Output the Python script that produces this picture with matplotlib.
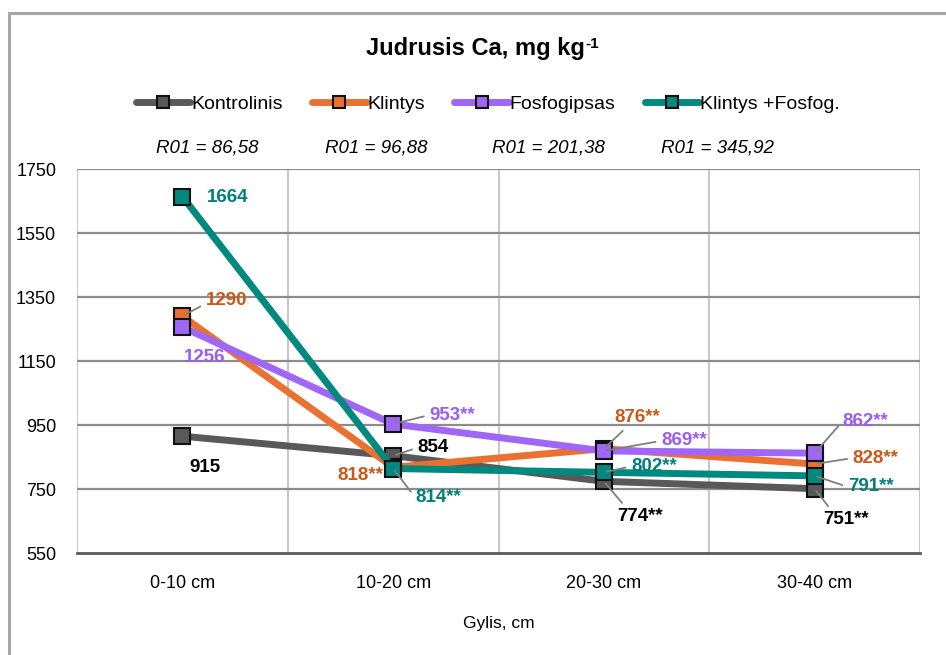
import matplotlib
matplotlib.use('Agg')
import matplotlib.pyplot as plt
from matplotlib.lines import Line2D

# depth layers and measured mobile Ca per treatment
depths = ['0-10 cm', '10-20 cm', '20-30 cm', '30-40 cm']
series_names = ['Kontrolinis', 'Klintys', 'Fosfogipsas', 'Klintys +Fosfog.']
kontrolinis = [915, 854, 774, 751]
klintys = [1290, 818, 876, 828]
fosfogipsas = [1256, 953, 869, 862]
klintys_fosfog = [1664, 814, 802, 791]
stars = [['', '', '**', '**'],
         ['', '**', '**', '**'],
         ['', '**', '**', '**'],
         ['', '**', '**', '**']]
r01 = ['R01 = 86,58', 'R01 = 96,88', 'R01 = 201,38', 'R01 = 345,92']
y_ticks = [550, 750, 950, 1150, 1350, 1550, 1750]

line_colors = ['#595959', '#E97132', '#A066F5', '#00897F']
label_colors = ['#000000', '#C9591B', '#9B5CF6', '#00807A']

# label offsets in pixels (dx right, dy down), leader anchor on the label
label_layout = [
    [(23, 31, None), (40, -8, (0, 0.5)), (36, 35, (0.2, 1)), (31, 31, (0.2, 1))],
    [(44, -16, (0, 0.3)), (-33, 8, None), (33, -31, (0.3, 0)), (61, -6, (0, 0.5))],
    [(22, 30, None), (59, -9, (0, 0.5)), (80, -10, (0, 0.5)), (51, -32, (0, 0.5))],
    [(45, 1, None), (45, 29, (0, 0.5)), (50, -6, (0, 0.5)), (56, 11, (0, 0.5))],
]

sans = ['Liberation Sans', 'DejaVu Sans']

fig = plt.figure(figsize=(9.46, 6.55), dpi=100)
ax = fig.add_axes([77 / 946, 1 - 553 / 655, (920 - 77) / 946, (553 - 169) / 655])

x = list(range(len(depths)))
all_series = [kontrolinis, klintys, fosfogipsas, klintys_fosfog]
for k, vals in enumerate(all_series):
    ax.plot(x, vals, color=line_colors[k], lw=5, solid_capstyle='round',
            marker='s', markersize=12, markerfacecolor=line_colors[k],
            markeredgecolor='#111111', markeredgewidth=1.5, zorder=3 + k)

# data labels with leader lines
for k, vals in enumerate(all_series):
    for i, v in enumerate(vals):
        dx, dy, rel = label_layout[k][i]
        kw = {}
        if rel is not None:
            kw['arrowprops'] = dict(arrowstyle='-', color='#7f7f7f', lw=1.3,
                                    shrinkA=2, shrinkB=2, relpos=rel)
        ax.annotate(f'{v}{stars[k][i]}', xy=(i, v),
                    xytext=(dx * 0.72, -dy * 0.72), textcoords='offset points',
                    ha='center', va='center', fontsize=13.5, fontweight='bold',
                    family=sans, color=label_colors[k], zorder=10, **kw)

ax.set_xlim(-0.5, len(depths) - 0.5)
ax.set_ylim(550, 1750)
ax.set_yticks(y_ticks)
ax.set_yticklabels([str(t) for t in y_ticks], family=sans, fontsize=13)
ax.set_xticks(x)
ax.set_xticklabels(depths, family=sans, fontsize=13)
ax.tick_params(length=0)
ax.tick_params(axis='y', pad=15)
ax.tick_params(axis='x', pad=16)

# horizontal grid darker, vertical separators lighter
for t in y_ticks[1:]:
    ax.axhline(t, color='#8c8c8c', lw=1.6, zorder=1)
for b in [-0.5, 0.5, 1.5, 2.5, 3.5]:
    ax.axvline(b, color='#c8c8c8', lw=1.5, zorder=0)
for s in ['left', 'right', 'top']:
    ax.spines[s].set_visible(False)
ax.spines['bottom'].set_color('#595959')
ax.spines['bottom'].set_linewidth(2)

ax.set_xlabel('Gylis, cm', family=sans, fontsize=12.5, labelpad=17)

# title with a small raised "-1"
title = fig.text(475 / 946, 1 - 48 / 655, 'Judrusis Ca, mg kg', ha='center', va='center',
                 fontsize=17, fontweight='bold', family=sans)
fig.canvas.draw()
bb = title.get_window_extent().transformed(fig.transFigure.inverted())
fig.text(bb.x1 + 1 / 946, bb.y1 - 8 / 655, '-1', ha='left', va='center',
         fontsize=11, fontweight='bold', family=sans)

handles = [Line2D([0], [0], color=c, lw=5, solid_capstyle='round', marker='s',
                  markersize=9, markerfacecolor=c, markeredgecolor='#111111',
                  markeredgewidth=1.5) for c in line_colors]
fig.legend(handles, series_names, loc='center', bbox_to_anchor=(488 / 946, 1 - 104 / 655),
           ncol=4, frameon=False, handlelength=2.8, handletextpad=0.05,
           columnspacing=1.5, prop={'family': sans, 'size': 14})

r01_x = [207, 376, 548, 717]
for xp, txt in zip(r01_x, r01):
    fig.text(xp / 946, 1 - 148 / 655, txt, ha='center', va='center',
             fontsize=13.5, style='italic', family=sans)

# outer chart frame (top and left edges)
fig.add_artist(Line2D([9 / 946, 1], [1 - 13 / 655, 1 - 13 / 655], color='#a6a6a6', lw=2.2))
fig.add_artist(Line2D([9 / 946, 9 / 946], [0, 1 - 13 / 655], color='#a6a6a6', lw=2.2))

fig.savefig('out.png', dpi=100)
